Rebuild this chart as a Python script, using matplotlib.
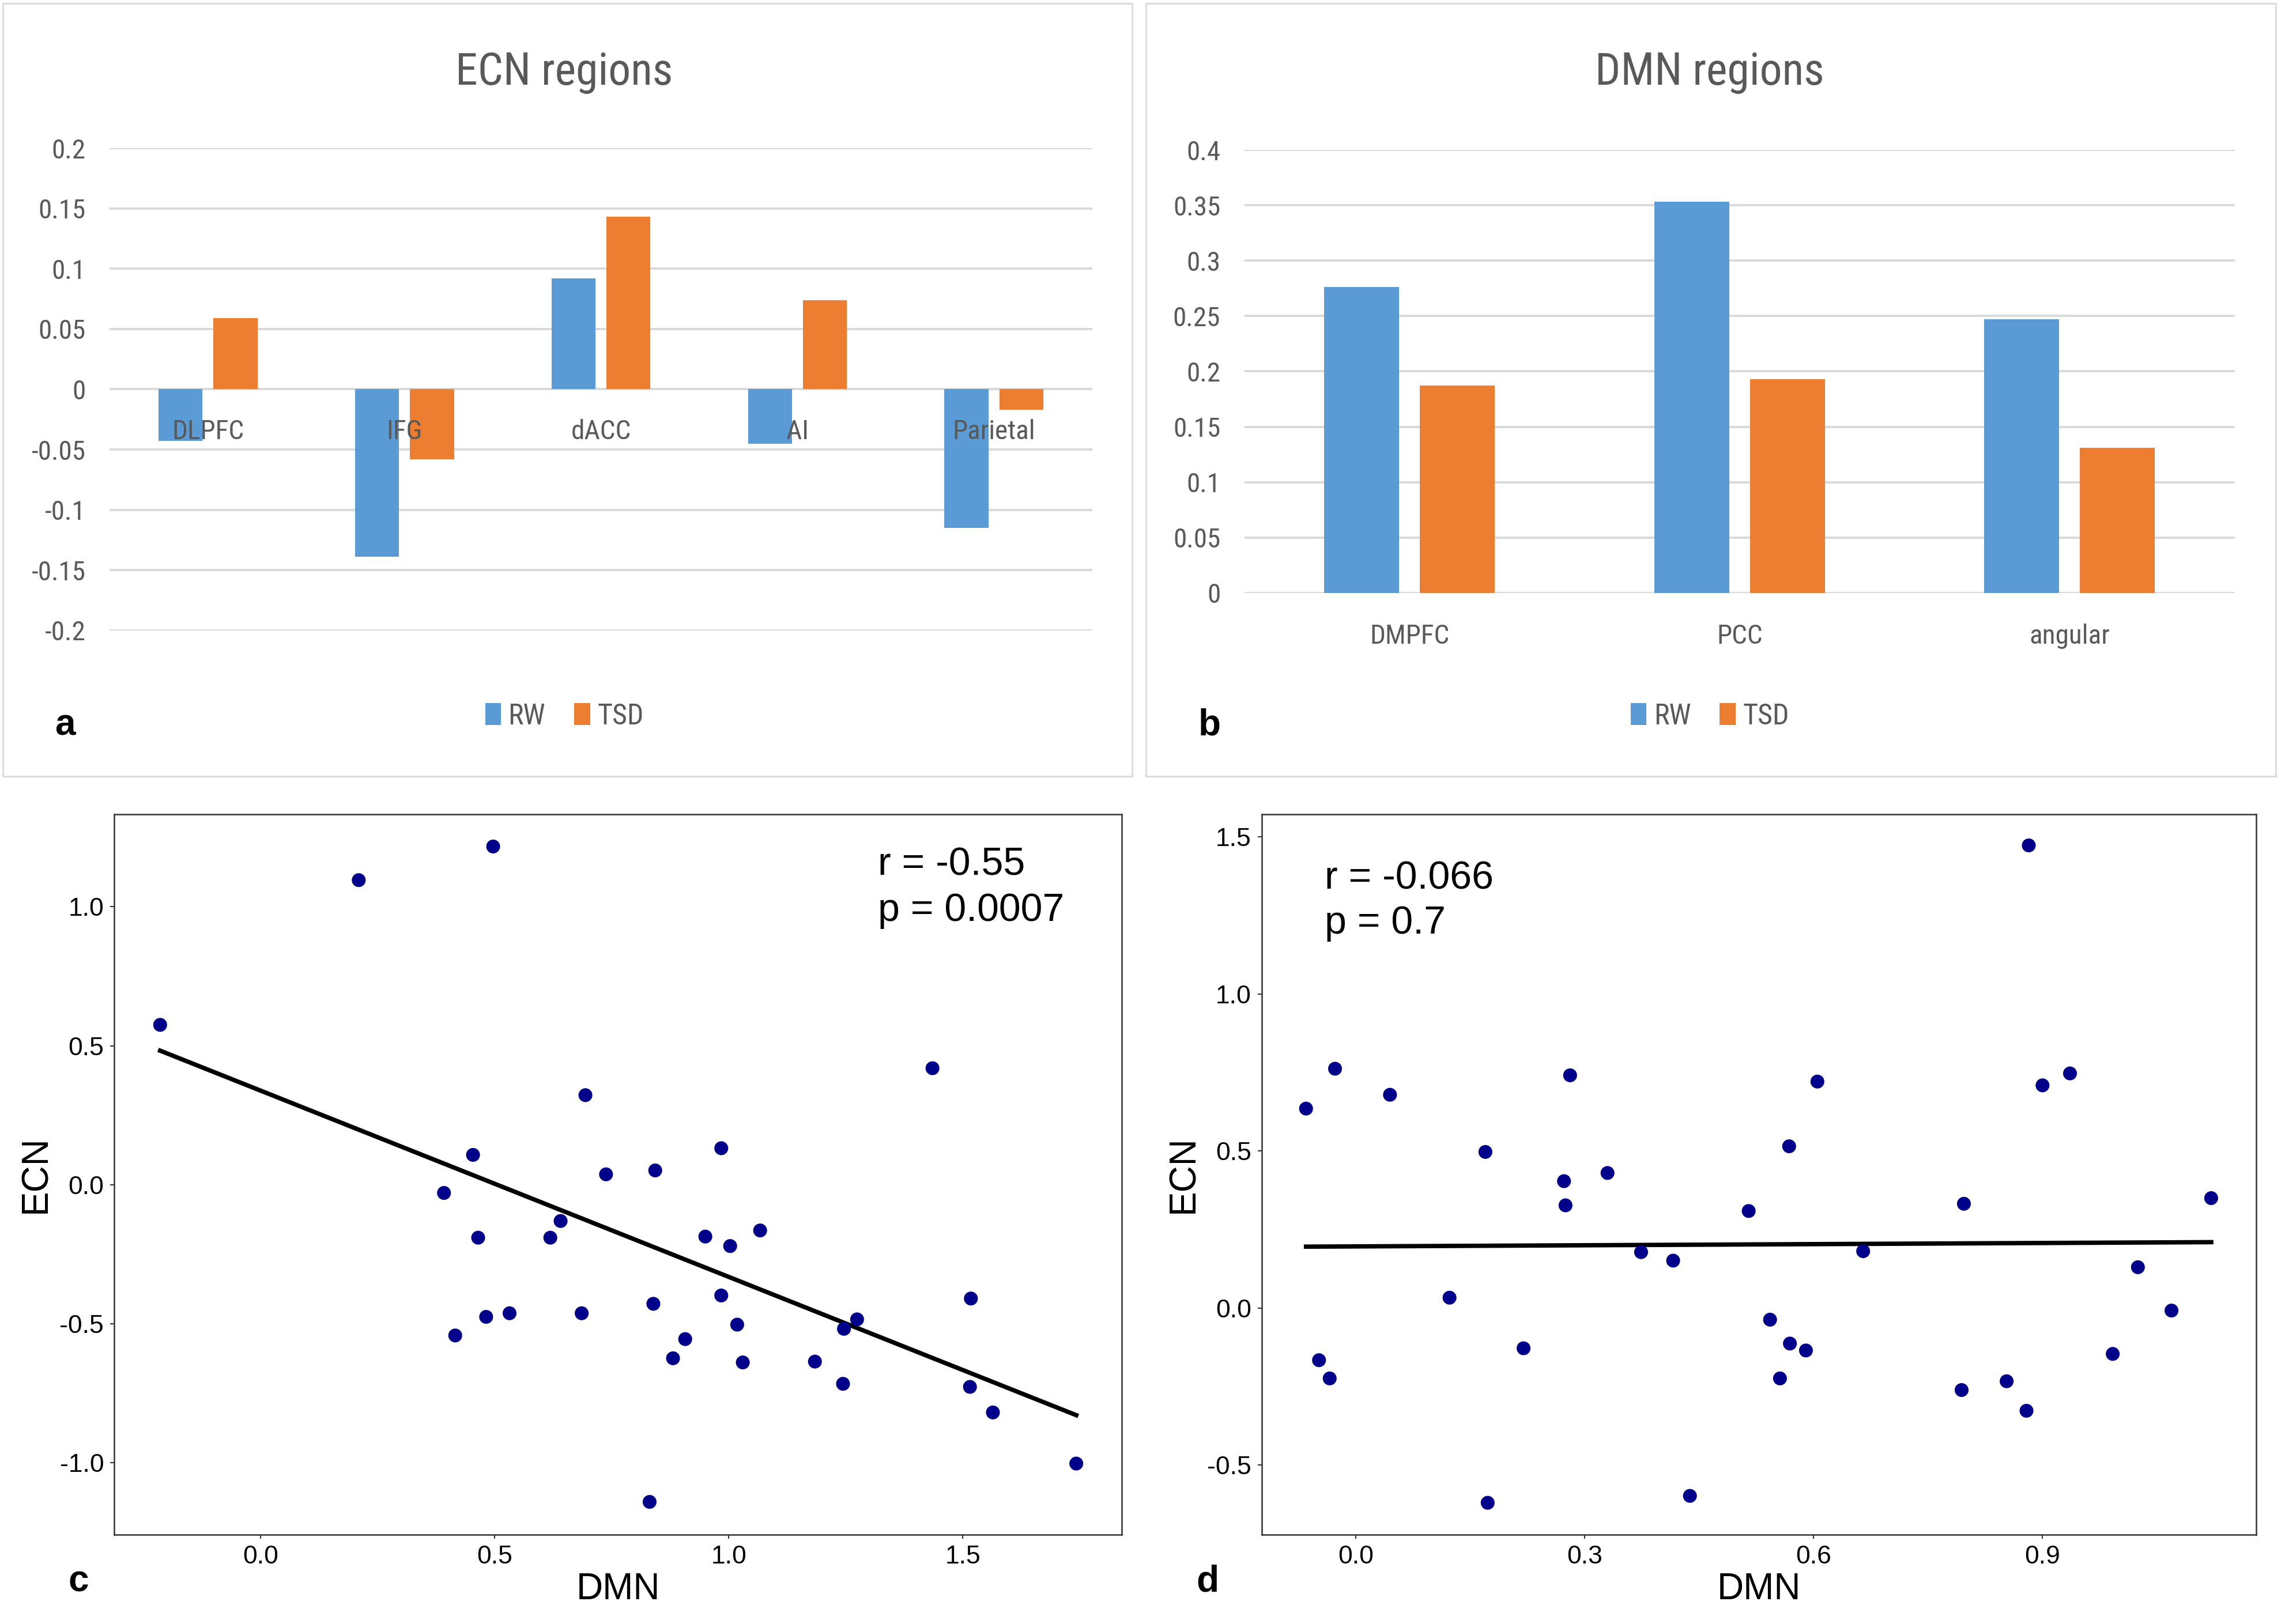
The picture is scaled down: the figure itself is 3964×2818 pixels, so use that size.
import numpy as np
import matplotlib
matplotlib.use('Agg')
import matplotlib.pyplot as plt
from matplotlib.patches import Rectangle
from matplotlib import font_manager

# panel a: ECN regions
ecn_regions = ['DLPFC', 'IFG', 'dACC', 'AI', 'Parietal']
ecn_rw = [-0.043, -0.139, 0.092, -0.045, -0.115]
ecn_tsd = [0.059, -0.058, 0.143, 0.074, -0.017]
ecn_ticks = [-0.2, -0.15, -0.1, -0.05, 0, 0.05, 0.1, 0.15, 0.2]
ecn_ticklabels = ['-0.2', '-0.15', '-0.1', '-0.05', '0', '0.05', '0.1', '0.15', '0.2']

# panel b: DMN regions
dmn_regions = ['DMPFC', 'PCC', 'angular']
dmn_rw = [0.276, 0.353, 0.247]
dmn_tsd = [0.187, 0.193, 0.131]
dmn_ticks = [0, 0.05, 0.1, 0.15, 0.2, 0.25, 0.3, 0.35, 0.4]
dmn_ticklabels = ['0', '0.05', '0.1', '0.15', '0.2', '0.25', '0.3', '0.35', '0.4']

# panel c: DMN vs ECN
c_dmn = [-0.214, 0.210, 0.497, 0.392, 0.454, 0.465, 0.416, 0.482, 0.532, 0.619,
         0.641, 0.694, 0.738, 0.843, 0.984, 0.950, 1.003, 1.067, 0.686, 0.839,
         0.984, 1.018, 0.907, 0.881, 1.030, 0.831, 1.184, 1.246, 1.274, 1.244,
         1.435, 1.517, 1.515, 1.564, 1.742]
c_ecn = [0.575, 1.096, 1.217, -0.030, 0.107, -0.191, -0.543, -0.476, -0.463, -0.191,
         -0.131, 0.322, 0.037, 0.051, 0.131, -0.187, -0.221, -0.165, -0.463, -0.429,
         -0.399, -0.504, -0.556, -0.625, -0.640, -1.142, -0.637, -0.519, -0.485, -0.717,
         0.419, -0.410, -0.728, -0.820, -1.004]
c_stats = ['r = -0.55', 'p = 0.0007']

# panel d: DMN vs ECN
d_dmn = [-0.065, -0.027, 0.045, -0.048, -0.034, 0.123, 0.170, 0.173, 0.220, 0.281,
         0.273, 0.275, 0.330, 0.374, 0.416, 0.438, 0.882, 0.605, 0.568, 0.515,
         0.797, 0.900, 0.936, 1.121, 0.665, 1.025, 1.069, 0.543, 0.569, 0.590,
         0.556, 0.794, 0.853, 0.879, 0.992]
d_ecn = [0.635, 0.762, 0.679, -0.166, -0.224, 0.033, 0.497, -0.620, -0.128, 0.741,
         0.404, 0.327, 0.430, 0.178, 0.151, -0.598, 1.473, 0.721, 0.515, 0.309,
         0.332, 0.709, 0.747, 0.350, 0.181, 0.130, -0.008, -0.037, -0.113, -0.135,
         -0.224, -0.261, -0.233, -0.327, -0.146]
d_stats = ['r = -0.066', 'p = 0.7']

BLUE = '#5B9BD5'
ORANGE = '#ED7D31'
GRID = '#D9D9D9'
TXT = '#595959'

# excel-looking narrow font, whatever is around
names = {f.name for f in font_manager.fontManager.ttflist}
narrow = 'Lato'
for cand in ['Liberation Sans Narrow', 'Roboto Condensed', 'Open Sans Condensed', 'Carlito']:
    if cand in names:
        narrow = cand
        break
NARROW = [narrow, 'DejaVu Sans']
plt.rcParams['font.family'] = ['Liberation Sans', 'DejaVu Sans']

fig = plt.figure(figsize=(39.64, 28.18), dpi=100)

# light frames around the two excel charts
for x0, x1 in [(0.0013, 0.4955), (0.5015, 0.996)]:
    fig.patches.append(Rectangle((x0, 0.522), x1 - x0, 0.476, transform=fig.transFigure,
                                 fill=False, edgecolor=GRID, lw=2))


def bar_panel(rect, cats, rw, tsd, ticks, ticklabels, width, off, label_off, title, title_x):
    ax = fig.add_axes(rect)
    x = np.arange(len(cats))
    b1 = ax.bar(x - off, rw, width, color=BLUE, label='RW', zorder=3)
    b2 = ax.bar(x + off, tsd, width, color=ORANGE, label='TSD', zorder=3)
    ax.set_xlim(-0.5, len(cats) - 0.5)
    ax.set_ylim(ticks[0], ticks[-1])
    ax.set_yticks(ticks)
    ax.set_yticklabels(ticklabels, family=NARROW, fontsize=34, color=TXT)
    ax.tick_params(axis='y', length=0, pad=30)
    ax.set_xticks([])
    ax.yaxis.grid(True, color=GRID, lw=2.8, zorder=0)
    for s in ax.spines.values():
        s.set_visible(False)
    for i, c in enumerate(cats):
        ax.annotate(c, (i, 0), xytext=(0, -label_off), textcoords='offset points',
                    ha='center', va='center', fontsize=34, color=TXT,
                    family=NARROW, zorder=4)
    fig.text(title_x, 0.948, title, ha='center', va='baseline', fontsize=56, color=TXT,
             family=NARROW)
    ax.legend(handles=[b1, b2], loc='center', bbox_to_anchor=(title_x, 0.559),
              bbox_transform=fig.transFigure, ncol=2, frameon=False,
              prop={'family': NARROW, 'size': 36},
              labelcolor=TXT, handlelength=0.55, handleheight=0.8,
              handletextpad=0.25, columnspacing=1.0)
    return ax


bar_panel([0.048, 0.6118, 0.430, 0.297], ecn_regions, ecn_rw, ecn_tsd, ecn_ticks,
          ecn_ticklabels, 0.224, 0.14, 53, 'ECN regions', 0.247)
bar_panel([0.5446, 0.6349, 0.4334, 0.2728], dmn_regions, dmn_rw, dmn_tsd, dmn_ticks,
          dmn_ticklabels, 0.227, 0.145, 54, 'DMN regions', 0.7483)


def scatter_panel(rect, xs, ys, xlim, ylim, xticks, yticks, stats, stat_x, stat_y):
    ax = fig.add_axes(rect)
    xs = np.array(xs)
    ys = np.array(ys)
    ax.scatter(xs, ys, s=300, color='#00008B', edgecolors='none', zorder=3)
    k, b = np.polyfit(xs, ys, 1)
    xl = np.array([xs.min(), xs.max()])
    ax.plot(xl, k * xl + b, color='black', lw=5.5, zorder=2)
    ax.set_xlim(xlim)
    ax.set_ylim(ylim)
    ax.set_xticks(xticks)
    ax.set_yticks(yticks)
    ax.set_xticklabels(['%.1f' % t for t in xticks])
    ax.set_yticklabels(['%.1f' % t for t in yticks])
    ax.tick_params(labelsize=32, length=5, width=1.5, color='#333333', pad=8)
    for s in ax.spines.values():
        s.set_color('#333333')
        s.set_linewidth(1.8)
    ax.set_xlabel('DMN', fontsize=46, labelpad=4)
    ax.set_ylabel('ECN', fontsize=46, labelpad=8)
    for txt, yy in zip(stats, stat_y):
        ax.text(stat_x, yy, txt, transform=ax.transAxes, ha='left', va='center', fontsize=49)
    return ax


scatter_panel([0.0500, 0.0550, 0.4409, 0.4436], c_dmn, c_ecn, (-0.312, 1.839), (-1.260, 1.333),
              [0.0, 0.5, 1.0, 1.5], [-1.0, -0.5, 0.0, 0.5, 1.0], c_stats, 0.758, [0.930, 0.866])
scatter_panel([0.5522, 0.0550, 0.4352, 0.4436], d_dmn, d_ecn, (-0.123, 1.180), (-0.7215, 1.572),
              [0.0, 0.3, 0.6, 0.9], [-0.5, 0.0, 0.5, 1.0, 1.5], d_stats, 0.063, [0.911, 0.849])

for lab, x, y in [('a', 0.024, 0.5475), ('b', 0.5245, 0.5475), ('c', 0.0298, 0.0202), ('d', 0.5235, 0.0202)]:
    fig.text(x, y, lab, fontsize=46, fontweight='bold', ha='left', va='baseline')

fig.savefig('out.png', dpi=100, facecolor='white')
